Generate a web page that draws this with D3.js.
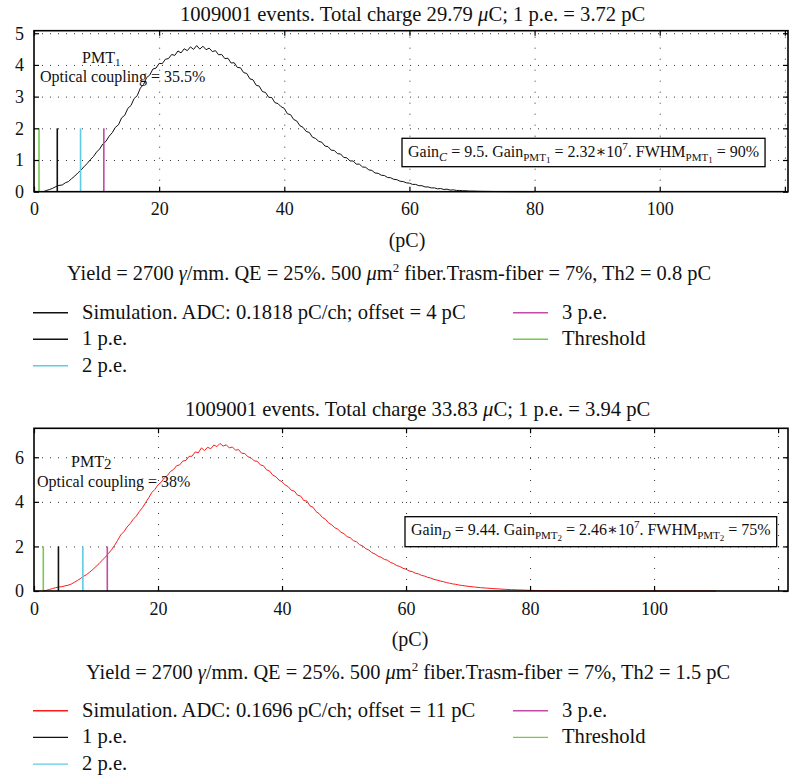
<!DOCTYPE html>
<html><head><meta charset="utf-8">
<script src="https://cdn.jsdelivr.net/npm/d3@7"></script>
<style>
html,body{margin:0;padding:0;background:#fff;}
svg{display:block;font-family:"Liberation Serif","DejaVu Serif",serif;}
</style></head><body>
<svg id="chart" width="795" height="778"></svg>
<script>
// ---------- DATA ----------
const charge = [1.5,2,2.5,3,3.5,4,4.5,5,5.5,6,6.5,7,7.5,8,8.5,9,9.5,10,10.5,11,11.5,12,12.5,13,13.5,14,14.5,15,15.5,16,16.5,17,17.5,18,18.5,19,19.5,20,20.5,21,21.5,22,22.5,23,23.5,24,24.5,25,25.5,26,26.5,27,27.5,28,28.5,29,29.5,30,30.5,31,31.5,32,32.5,33,33.5,34,34.5,35,35.5,36,36.5,37,37.5,38,38.5,39,39.5,40,40.5,41,41.5,42,42.5,43,43.5,44,44.5,45,45.5,46,46.5,47,47.5,48,48.5,49,49.5,50,50.5,51,51.5,52,52.5,53,53.5,54,54.5,55,55.5,56,56.5,57,57.5,58,58.5,59,59.5,60,60.5,61,61.5,62,62.5,63,63.5,64,64.5,65,65.5,66,66.5,67,67.5,68,68.5,69,69.5,70,71,72,73,74,75,76,77,78,79,80,82,84,86,88,90,95,100,105,110];

const countsPMT1 = [
 0,0.04,0.07,0.11,0.16,0.20,0.21,0.28,0.32,0.41,
 0.49,0.59,0.68,0.79,0.89,1.01,1.11,1.25,1.35,1.51,
 1.59,1.75,1.86,2.03,2.11,2.33,2.41,2.63,2.72,2.94,
 3.03,3.27,3.38,3.60,3.68,3.87,3.90,4.05,4.04,4.18,
 4.20,4.33,4.30,4.44,4.38,4.51,4.45,4.57,4.49,4.61,
 4.50,4.59,4.48,4.53,4.42,4.45,4.32,4.33,4.20,4.21,
 4.06,4.07,3.92,3.91,3.76,3.73,3.56,3.53,3.36,3.33,
 3.16,3.13,2.98,2.97,2.81,2.78,2.68,2.63,2.46,2.43,
 2.28,2.23,2.08,2.03,1.90,1.87,1.72,1.68,1.59,1.56,
 1.44,1.42,1.31,1.30,1.20,1.19,1.08,1.07,0.97,0.97,
 0.87,0.87,0.78,0.77,0.69,0.67,0.59,0.58,0.52,0.51,
 0.45,0.44,0.39,0.38,0.33,0.32,0.28,0.27,0.23,0.23,
 0.19,0.19,0.15,0.15,0.12,0.12,0.09,0.10,0.07,0.08,
 0.05,0.06,0.04,0.04,0.03,0.03,0.02,0.02,
 0.014,0.01,0.008,0.005,0.004,0.002,0.001,0,0,0,
 null,null,null,null,null,null,null,null,null];

const countsPMT2 = [
 0,0.03,0.07,0.11,0.15,0.18,0.19,0.23,0.26,0.31,
 0.39,0.47,0.56,0.66,0.74,0.85,0.97,1.10,1.23,1.38,
 1.52,1.68,1.85,2.05,2.28,2.52,2.66,2.87,3.02,3.22,
 3.36,3.57,3.74,3.97,4.18,4.42,4.56,4.76,4.88,5.07,
 5.18,5.36,5.45,5.62,5.66,5.83,5.86,6.04,6.05,6.24,
 6.20,6.42,6.30,6.45,6.38,6.55,6.48,6.62,6.50,6.56,
 6.42,6.46,6.32,6.34,6.18,6.17,6.02,5.98,5.84,5.82,
 5.66,5.62,5.44,5.38,5.20,5.13,4.98,4.90,4.76,4.68,
 4.52,4.48,4.30,4.26,4.06,4.04,3.82,3.76,3.56,3.47,
 3.30,3.22,3.06,2.97,2.84,2.77,2.64,2.57,2.44,2.39,
 2.26,2.21,2.08,2.02,1.90,1.84,1.72,1.66,1.56,1.51,
 1.42,1.38,1.28,1.23,1.14,1.10,1.02,0.98,0.90,0.87,
 0.80,0.77,0.70,0.67,0.61,0.58,0.52,0.49,0.45,0.42,
 0.38,0.35,0.32,0.30,0.27,0.25,0.23,0.21,
 0.18,0.15,0.13,0.11,0.09,0.075,0.06,0.05,0.04,0.03,
 0.015,0.008,0.004,0.002,0.001,0,0,0,0];

const xTicks = [0,20,40,60,80,100,120];
const xTickLabels = ["0","20","40","60","80","100",""];
const yTicksPMT1 = [0,1,2,3,4,5];
const yTicksPMT2 = [0,2,4,6];
const markerNames = ["Threshold","1 p.e.","2 p.e.","3 p.e."];
const markersPMT1 = [0.8, 3.72, 7.44, 11.16];
const markersPMT2 = [1.5, 3.94, 7.88, 11.82];
const markerHeight = 2;
const markerColors = ["#79c851","#111111","#5ccde3","#c24aa8"];

// ---------- DRAW ----------
const svg = d3.select("#chart");

function rich(t, parts){
  let cur = 0;
  parts.forEach(p=>{
    const o = typeof p === "string" ? {t:p} : p;
    const shift = o.shift || 0;
    const ts = t.append("tspan").text(o.t).attr("dy", shift - cur);
    cur = shift;
    if (o.size) ts.attr("font-size", o.size);
    if (o.italic) ts.attr("font-style", "italic");
  });
  return t;
}

function panel(cfg){
  const x = d3.scaleLinear().domain([0, cfg.xMax]).range([cfg.left, cfg.right]);
  const y = d3.scaleLinear().domain([0, cfg.yMax]).range([cfg.bottom, cfg.top]);
  const g = svg.append("g");
  const h = cfg.bottom - cfg.top, w = cfg.right - cfg.left;

  // grid
  g.append("g").attr("transform",`translate(0,${cfg.bottom})`)
    .call(d3.axisBottom(x).tickValues(xTicks.slice(1)).tickSize(-h).tickFormat(""))
    .call(s=>{s.select(".domain").remove(); s.selectAll("line").attr("stroke","#333").attr("stroke-dasharray","1,10");});
  g.append("g").attr("transform",`translate(${cfg.left},0)`)
    .call(d3.axisLeft(y).tickValues(cfg.yTicks.slice(1)).tickSize(-w).tickFormat(""))
    .call(s=>{s.select(".domain").remove(); s.selectAll("line").attr("stroke","#333").attr("stroke-dasharray","1,7");});

  // curve
  const line = d3.line().defined((d,i)=>cfg.counts[i]!==null)
    .x((d,i)=>x(charge[i])).y((d,i)=>y(cfg.counts[i]));
  g.append("path").datum(charge).attr("d", line).attr("fill","none")
    .attr("stroke", cfg.color).attr("stroke-width", 1);

  // markers
  g.selectAll("line.mk").data(cfg.markers).join("line").attr("class","mk")
    .attr("x1", d=>x(d)).attr("x2", d=>x(d))
    .attr("y1", y(0)).attr("y2", y(markerHeight))
    .attr("stroke", (d,i)=>markerColors[i]).attr("stroke-width", 1.6);

  // axes (inward ticks)
  const styleAx = s=>{s.select(".domain").remove(); s.selectAll("line").attr("stroke","#000").attr("stroke-width",1.2);
    s.selectAll("text").attr("font-family","Liberation Serif, serif").attr("font-size",18).attr("fill","#111");};
  g.append("g").attr("transform",`translate(0,${cfg.bottom})`)
    .call(d3.axisBottom(x).tickValues(xTicks).tickSize(-5).tickPadding(11).tickFormat((d,i)=>xTickLabels[i])).call(styleAx);
  g.append("g").attr("transform",`translate(0,${cfg.top})`)
    .call(d3.axisTop(x).tickValues(xTicks).tickSize(-5).tickFormat("")).call(styleAx);
  g.append("g").attr("transform",`translate(${cfg.left},0)`)
    .call(d3.axisLeft(y).tickValues(cfg.yTicks).tickSize(-5).tickPadding(10).tickFormat(d3.format("d"))).call(styleAx);
  g.append("g").attr("transform",`translate(${cfg.right},0)`)
    .call(d3.axisRight(y).tickValues(cfg.yTicks).tickSize(-5).tickFormat("")).call(styleAx);

  g.append("rect").attr("x",cfg.left).attr("y",cfg.top).attr("width",w).attr("height",h)
    .attr("fill","none").attr("stroke","#000").attr("stroke-width",1.6);

  // title
  rich(g.append("text").attr("x",cfg.titleX).attr("y",cfg.titleY).attr("font-size",20.6).attr("fill","#111"), cfg.title);
  // PMT label
  rich(g.append("text").attr("x",cfg.pmtX).attr("y",cfg.pmtY).attr("font-size",16).attr("fill","#111"), cfg.pmt);
  g.append("text").attr("x",cfg.ocX).attr("y",cfg.ocY).attr("font-size",16).attr("fill","#111").text(cfg.oc);

  // gain box
  const gt = rich(g.append("text").attr("x",cfg.boxTextX).attr("y",cfg.boxTextY).attr("font-size",16).attr("fill","#111"), cfg.gain);
  const bb = gt.node().getBBox();
  g.append("rect").attr("x", bb.x-6).attr("y", cfg.boxTop).attr("width", bb.width+12).attr("height", cfg.boxH)
    .attr("fill","#fff").attr("stroke","#000").attr("stroke-width",1.3);
  gt.raise();

  // axis label & yield
  g.append("text").attr("x",cfg.pcX).attr("y",cfg.bottom+55).attr("text-anchor","middle").attr("font-size",20).attr("fill","#111").text("(pC)");
  rich(g.append("text").attr("x",cfg.yieldX).attr("y",cfg.bottom+88).attr("font-size",20.4).attr("fill","#111"), cfg.yieldParts);

  // legend
  const names = [cfg.simLabel, markerNames[1], markerNames[2], markerNames[3], markerNames[0]];
  const cols = [cfg.color, markerColors[1], markerColors[2], markerColors[3], markerColors[0]];
  const pos = [[33,0],[33,1],[33,2],[513,0],[513,1]];
  names.forEach((n,i)=>{
    const yy = cfg.legY + pos[i][1]*cfg.legStep;
    g.append("line").attr("x1",pos[i][0]).attr("x2",pos[i][0]+35).attr("y1",yy).attr("y2",yy)
      .attr("stroke",cols[i]).attr("stroke-width",1.4);
    g.append("text").attr("x",pos[i][0]+49).attr("y",yy+6).attr("font-size",20.6).attr("fill","#111").text(n);
  });
}

panel({
  left:34, right:788, top:30.7, bottom:191.7, xMax:120.5, yMax:5.08,
  yTicks:yTicksPMT1, counts:countsPMT1, markers:markersPMT1, color:"#111",
  titleX:180, titleY:21,
  title:["1009001 events. Total charge 29.79 ",{t:"μ",italic:true},"C; 1 p.e. = 3.72 pC"],
  pmtX:82, pmtY:63, pmt:["PMT",{t:"1",size:11,shift:3}],
  ocX:40, ocY:82, oc:"Optical coupling = 35.5%",
  boxTextX:408, boxTextY:157, boxTop:138.3, boxH:28.4,
  gain:["Gain",{t:"C",italic:true,size:12,shift:4}," = 9.5. Gain",{t:"PMT",size:11,shift:4},{t:"1",size:9,shift:6},
        {t:" = 2.32∗10",shift:0},{t:"7",size:11,shift:-7},{t:". FWHM",shift:0},{t:"PMT",size:11,shift:4},{t:"1",size:9,shift:6},{t:" = 90%",shift:0}],
  pcX:407, yieldX:67,
  yieldParts:["Yield = 2700 ",{t:"γ",italic:true},"/mm. QE = 25%. 500 ",{t:"μ",italic:true},"m",{t:"2",size:13,shift:-8},{t:" fiber.Trasm-fiber = 7%, Th2 = 0.8 pC",shift:0}],
  simLabel:"Simulation. ADC: 0.1818 pC/ch; offset = 4 pC",
  legY:312.7, legStep:26.5
});

panel({
  left:34, right:788, top:428.3, bottom:591, xMax:121.6, yMax:7.3,
  yTicks:yTicksPMT2, counts:countsPMT2, markers:markersPMT2, color:"#ff1a1a",
  titleX:185, titleY:416,
  title:["1009001 events. Total charge 33.83 ",{t:"μ",italic:true},"C; 1 p.e. = 3.94 pC"],
  pmtX:71, pmtY:467, pmt:["PMT",{t:"2",size:15,shift:2}],
  ocX:37, ocY:487, oc:"Optical coupling = 38%",
  boxTextX:411, boxTextY:535, boxTop:516.7, boxH:30,
  gain:["Gain",{t:"D",italic:true,size:12,shift:4}," = 9.44. Gain",{t:"PMT",size:11,shift:4},{t:"2",size:9,shift:6},
        {t:" = 2.46∗10",shift:0},{t:"7",size:11,shift:-7},{t:". FWHM",shift:0},{t:"PMT",size:11,shift:4},{t:"2",size:9,shift:6},{t:" = 75%",shift:0}],
  pcX:410, yieldX:86,
  yieldParts:["Yield = 2700 ",{t:"γ",italic:true},"/mm. QE = 25%. 500 ",{t:"μ",italic:true},"m",{t:"2",size:13,shift:-8},{t:" fiber.Trasm-fiber = 7%, Th2 = 1.5 pC",shift:0}],
  simLabel:"Simulation. ADC: 0.1696 pC/ch; offset = 11 pC",
  legY:710.7, legStep:26.7
});
</script>
</body></html>
